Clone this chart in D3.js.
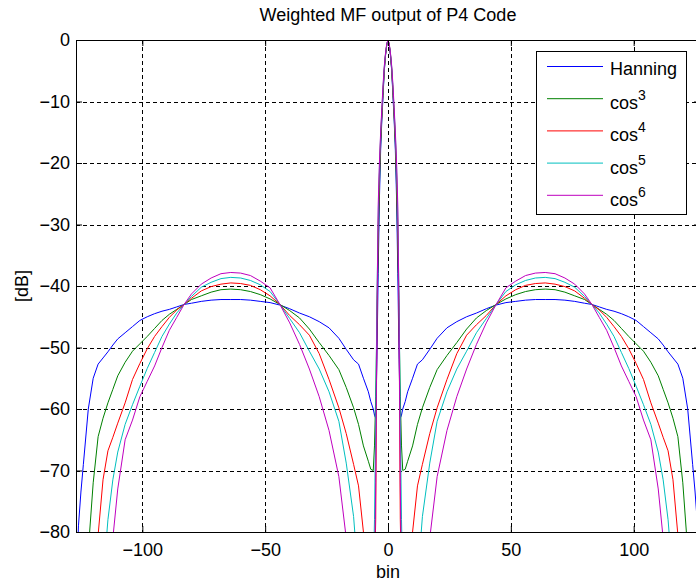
<!DOCTYPE html>
<html><head><meta charset="utf-8">
<script src="https://cdn.jsdelivr.net/npm/d3@7"></script>
<style>
body{margin:0;background:#fff}
svg{display:block}
text{font-family:"Liberation Sans",Arial,Helvetica,sans-serif;fill:#000}
</style>
</head><body>
<svg id="chart" width="696" height="586"></svg>
<script>
// ---- data ----
const bins = [-127,-126,-125,-124,-122,-120,-118,-116,-114,-112,-110,-107,-104,-101,-98,-95,-92,-89,-86,-83,-80,-76,-72,-68,-64,-60,-56,-52,-48,-44,-40,-36,-32,-28,-24,-20,-17,-14,-12,-10,-8,-7,-6,-5.5,-5,-4.5,-4,-3.5,-3,-2.5,-2,-1.5,-1,-0.5,0,0.5,1,1.5,2,2.5,3,3.5,4,4.5,5,5.5,6,7,8,10,12,14,17,20,24,28,32,36,40,44,48,52,56,60,64,68,72,76,80,83,86,89,92,95,98,101,104,107,110,112,114,116,118,120,122,124,125,126,127];

const hanning = [-90,-79,-73.5,-69,-60,-55,-52.7,-51.7,-50.7,-49.6,-48.6,-47.6,-46.6,-45.6,-45,-44.5,-44.1,-43.8,-43.4,-43,-42.8,-42.5,-42.3,-42.2,-42.2,-42.2,-42.3,-42.5,-42.7,-43.1,-43.7,-44.4,-45,-45.8,-46.8,-48.5,-50.3,-52,-52.7,-55,-57.2,-58.8,-60,-61,-61.5,-52,-38,-26,-18,-13,-9,-5,-2.5,-0.8,
  0,
  -0.8,-2.5,-5,-9,-13,-18,-26,-38,-52,-61.5,-61,-60,-58.8,-57.2,-55,-52.7,-52,-50.3,-48.5,-46.8,-45.8,-45,-44.4,-43.7,-43.1,-42.7,-42.5,-42.3,-42.2,-42.2,-42.2,-42.3,-42.5,-42.8,-43,-43.4,-43.8,-44.1,-44.5,-45,-45.6,-46.6,-47.6,-48.6,-49.6,-50.7,-51.7,-52.7,-55,-60,-69,-73.5,-79,-90];

const cos3 = [-100,-100,-100,-95,-83,-72,-64.5,-61.5,-59,-56.8,-54.6,-52.4,-50.6,-49.4,-48.2,-46.9,-45.6,-44.6,-43.8,-43,-42.2,-41.6,-41,-40.6,-40.5,-40.6,-40.9,-41.4,-42.1,-43,-44,-45.2,-47,-49.2,-51.3,-53.6,-56.5,-59.8,-62.5,-66,-68.5,-69.8,-70,-66,-58,-46,-34,-24,-17,-12.5,-8.5,-4.8,-2.4,-0.8,
  0,
  -0.8,-2.4,-4.8,-8.5,-12.5,-17,-24,-34,-46,-58,-66,-70,-69.8,-68.5,-66,-62.5,-59.8,-56.5,-53.6,-51.3,-49.2,-47,-45.2,-44,-43,-42.1,-41.4,-40.9,-40.6,-40.5,-40.6,-41,-41.6,-42.2,-43,-43.8,-44.6,-45.6,-46.9,-48.2,-49.4,-50.6,-52.4,-54.6,-56.8,-59,-61.5,-64.5,-72,-83,-95,-100,-100,-100];

const cos4 = [-100,-100,-100,-100,-100,-90,-80.5,-71.5,-66.8,-64.6,-62.3,-59,-55.2,-52.6,-50.2,-48.2,-46.6,-45.1,-43.9,-43,-42,-40.8,-40.1,-39.7,-39.5,-39.6,-39.9,-40.6,-41.6,-43,-44.8,-46.3,-48,-51,-55.2,-59.8,-64,-69,-72.5,-80,-92,-95,-95,-88,-78,-45,-31,-22,-16,-12,-8,-4.6,-2.3,-0.7,
  0,
  -0.7,-2.3,-4.6,-8,-12,-16,-22,-31,-45,-78,-88,-95,-95,-92,-80,-72.5,-69,-64,-59.8,-55.2,-51,-48,-46.3,-44.8,-43,-41.6,-40.6,-39.9,-39.6,-39.5,-39.7,-40.1,-40.8,-42,-43,-43.9,-45.1,-46.6,-48.2,-50.2,-52.6,-55.2,-59,-62.3,-64.6,-66.8,-71.5,-80.5,-90,-100,-100,-100,-100,-100];

const cos5 = [-100,-100,-100,-100,-100,-100,-100,-88,-78,-71.5,-67,-62.5,-59.3,-56.3,-53.4,-50.8,-48.2,-46.2,-44.4,-43,-41.7,-40.2,-39.4,-38.8,-38.6,-38.7,-39.1,-39.8,-40.9,-43,-45.3,-47.6,-50.6,-53.5,-57.2,-62,-68.8,-77.5,-88,-95,-98,-95,-88,-78,-62,-42,-29,-21,-15.5,-11.5,-7.6,-4.4,-2.2,-0.7,
  0,
  -0.7,-2.2,-4.4,-7.6,-11.5,-15.5,-21,-29,-42,-62,-78,-88,-95,-98,-95,-88,-77.5,-68.8,-62,-57.2,-53.5,-50.6,-47.6,-45.3,-43,-40.9,-39.8,-39.1,-38.7,-38.6,-38.8,-39.4,-40.2,-41.7,-43,-44.4,-46.2,-48.2,-50.8,-53.4,-56.3,-59.3,-62.5,-67,-71.5,-78,-88,-100,-100,-100,-100,-100,-100,-100];

const cos6 = [-100,-100,-100,-100,-100,-100,-100,-100,-92,-81,-73,-65,-61.8,-58,-55.5,-53,-50,-47.2,-45.1,-43,-41.3,-39.7,-38.7,-38,-37.8,-37.9,-38.3,-39.2,-40.3,-43,-46,-49.5,-53.5,-58,-63.5,-71,-81,-95,-100,-100,-100,-100,-95,-88,-72,-45,-27,-20,-15,-11,-7.2,-4.2,-2.1,-0.6,
  0,
  -0.6,-2.1,-4.2,-7.2,-11,-15,-20,-27,-45,-72,-88,-95,-100,-100,-100,-100,-95,-81,-71,-63.5,-58,-53.5,-49.5,-46,-43,-40.3,-39.2,-38.3,-37.9,-37.8,-38,-38.7,-39.7,-41.3,-43,-45.1,-47.2,-50,-53,-55.5,-58,-61.8,-65,-73,-81,-92,-100,-100,-100,-100,-100,-100,-100,-100];

const seriesNames = ["Hanning", "cos", "cos", "cos", "cos"];
const seriesPowers = ["", "3", "4", "5", "6"];
const seriesColors = ["#0000ff", "#008000", "#ff0000", "#00bfbf", "#bf00bf"];
const xTicks = [-100, -50, 0, 50, 100];
const yTicks = [-80, -70, -60, -50, -40, -30, -20, -10, 0];
const titleText = "Weighted MF output of P4 Code";
const xLabel = "bin";
const yLabel = "[dB]";

// ---- layout ----
const L = 76, T = 40, R = 700, B = 532;
const FS = 18;
const svg = d3.select("#chart");
svg.append("rect").attr("width", 696).attr("height", 586).attr("fill", "#fff");

const x = d3.scaleLinear().domain([-127, 127]).range([L, R]);
const y = d3.scaleLinear().domain([-80, 0]).range([B, T]);

svg.append("defs").append("clipPath").attr("id", "plotclip")
  .append("rect").attr("x", L).attr("y", T).attr("width", R - L).attr("height", B - T);

// grid
const grid = svg.append("g").attr("stroke", "#000").attr("stroke-width", 1)
  .attr("stroke-dasharray", "4,3").attr("fill", "none");
grid.selectAll("line.gx").data(xTicks).join("line").attr("class", "gx")
  .attr("x1", d => Math.round(x(d)) + 0.5).attr("x2", d => Math.round(x(d)) + 0.5)
  .attr("y1", T).attr("y2", B);
grid.selectAll("line.gy").data(yTicks.filter(v => v > -80 && v < 0)).join("line").attr("class", "gy")
  .attr("y1", d => Math.round(y(d)) + 0.5).attr("y2", d => Math.round(y(d)) + 0.5)
  .attr("x1", L).attr("x2", R);

// curves
const allSeries = [hanning, cos3, cos4, cos5, cos6];
const line = d3.line().x((d, i) => x(bins[i])).y(d => y(d)).curve(d3.curveLinear);
const curves = svg.append("g").attr("clip-path", "url(#plotclip)");
allSeries.forEach((s, k) => {
  curves.append("path").datum(s).attr("d", line)
    .attr("fill", "none").attr("stroke", seriesColors[k]).attr("stroke-width", 1)
    .attr("stroke-linejoin", "miter");
});

// axes with inward ticks
const xAxis = svg.append("g").attr("transform", `translate(0,${B})`)
  .call(d3.axisBottom(x).tickValues(xTicks).tickSize(-6).tickPadding(11).tickFormat(d3.format("d")));
const xAxisTop = svg.append("g").attr("transform", `translate(0,${T})`)
  .call(d3.axisTop(x).tickValues(xTicks).tickSize(-6).tickFormat(""));
const yAxis = svg.append("g").attr("transform", `translate(${L},0)`)
  .call(d3.axisLeft(y).tickValues(yTicks).tickSize(-6).tickPadding(6).tickFormat(d3.format("d")));
const yAxisR = svg.append("g").attr("transform", `translate(${R},0)`)
  .call(d3.axisRight(y).tickValues(yTicks).tickSize(-6).tickFormat(""));
[xAxis, xAxisTop, yAxis, yAxisR].forEach(g => {
  g.select(".domain").remove();
  g.selectAll("line").attr("stroke", "#000");
  g.selectAll("text").attr("font-size", FS).attr("font-family", "'Liberation Sans', Arial, sans-serif").attr("fill", "#000");
});

// box
svg.append("rect").attr("x", L + 0.5).attr("y", T + 0.5).attr("width", R - L).attr("height", B - T)
  .attr("fill", "none").attr("stroke", "#000").attr("stroke-width", 1);

// title and labels
svg.append("text").attr("x", (L + R) / 2).attr("y", 21).attr("text-anchor", "middle")
  .attr("font-size", FS).text(titleText);
svg.append("text").attr("x", (L + R) / 2).attr("y", 578).attr("text-anchor", "middle")
  .attr("font-size", FS).text(xLabel);
svg.append("text").attr("transform", `translate(28,${(T + B) / 2}) rotate(-90)`)
  .attr("text-anchor", "middle").attr("font-size", FS).text(yLabel);

// legend
const lg = svg.append("g");
lg.append("rect").attr("x", 536.5).attr("y", 51.5).attr("width", 150).attr("height", 163)
  .attr("fill", "#fff").attr("stroke", "#000").attr("stroke-width", 1);
seriesNames.forEach((name, k) => {
  const cy = 66 + k * 32.2;
  lg.append("line").attr("x1", 547).attr("x2", 603).attr("y1", cy + 0.5).attr("y2", cy + 0.5)
    .attr("stroke", seriesColors[k]).attr("stroke-width", 1);
  const t = lg.append("text").attr("x", 610).attr("font-size", FS);
  if (seriesPowers[k] === "") {
    t.attr("y", cy + 9).text(name);
  } else {
    t.attr("y", cy + 11).text(name);
    t.append("tspan").attr("font-size", 14).attr("dy", -9).text(seriesPowers[k]);
  }
});
</script>
</body></html>
